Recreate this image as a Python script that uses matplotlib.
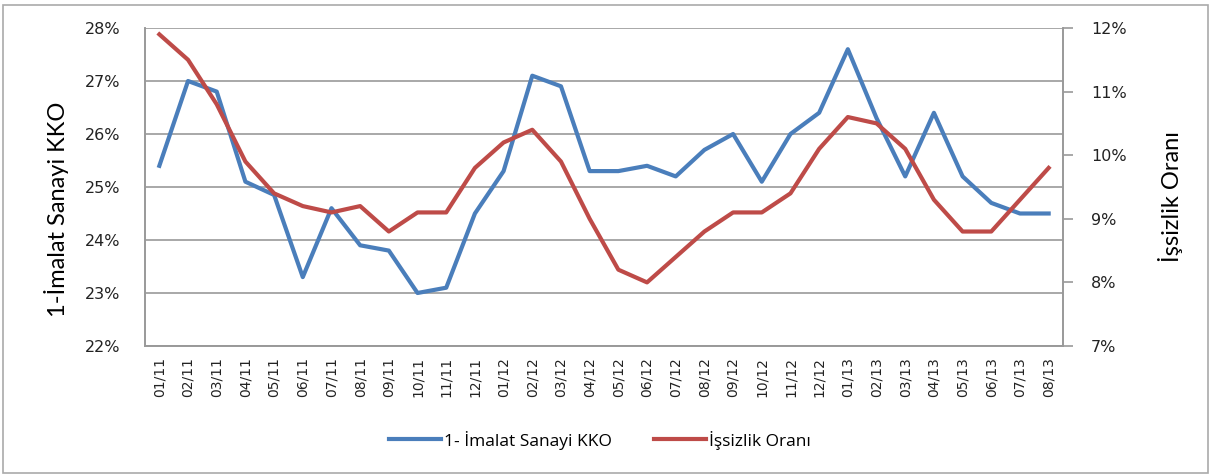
import matplotlib.pyplot as plt
from matplotlib.patches import Rectangle
from matplotlib.ticker import FuncFormatter

months = ['01/11', '02/11', '03/11', '04/11', '05/11', '06/11', '07/11', '08/11',
          '09/11', '10/11', '11/11', '12/11', '01/12', '02/12', '03/12', '04/12',
          '05/12', '06/12', '07/12', '08/12', '09/12', '10/12', '11/12', '12/12',
          '01/13', '02/13', '03/13', '04/13', '05/13', '06/13', '07/13', '08/13']

kko = [25.4, 27.0, 26.8, 25.1, 24.85, 23.3, 24.6, 23.9, 23.8, 23.0, 23.1, 24.5,
       25.3, 27.1, 26.9, 25.3, 25.3, 25.4, 25.2, 25.7, 26.0, 25.1, 26.0, 26.4,
       27.6, 26.3, 25.2, 26.4, 25.2, 24.7, 24.5, 24.5]

issizlik = [11.9, 11.5, 10.8, 9.9, 9.4, 9.2, 9.1, 9.2, 8.8, 9.1, 9.1, 9.8,
            10.2, 10.4, 9.9, 9.0, 8.2, 8.0, 8.4, 8.8, 9.1, 9.1, 9.4, 10.1,
            10.6, 10.5, 10.1, 9.3, 8.8, 8.8, 9.3, 9.8]

blue = '#4a7ebb'
red = '#be4b48'
grid = '#999999'

fig = plt.figure(figsize=(12.11, 4.76), dpi=100)
ax = fig.add_axes([145 / 1211, 1 - 346 / 476, (1063 - 145) / 1211, (346 - 28) / 476])
ax2 = ax.twinx()

x = list(range(len(months)))
l1, = ax.plot(x, kko, color=blue, lw=3, label='1- İmalat Sanayi KKO')
l2, = ax2.plot(x, issizlik, color=red, lw=3, label='İşsizlik Oranı')

ax.set_xlim(-0.5, len(months) - 0.5)
ax.set_ylim(22, 28)
ax2.set_ylim(7, 12)
ax.set_yticks(range(22, 29))
ax2.set_yticks(range(7, 13))
pct = FuncFormatter(lambda v, p: '%d%%' % v)
ax.yaxis.set_major_formatter(pct)
ax2.yaxis.set_major_formatter(pct)

ax.grid(axis='y', color=grid, lw=1.2)
ax.set_axisbelow(True)
ax.set_xticks(x)
ax.set_xticklabels(months, rotation=90, fontsize=10, family='DejaVu Sans', color='#222222')
ax.tick_params(axis='x', length=0, pad=8)
ax.tick_params(axis='y', length=0, pad=18, labelsize=11.5, labelcolor='#222222')
ax2.tick_params(axis='y', length=7, width=1.2, color=grid, pad=13, labelsize=11.5,
                labelcolor='#222222')

for a in (ax, ax2):
    for s in a.spines.values():
        s.set_color(grid)
        s.set_linewidth(1.2)
ax.spines['top'].set_visible(False)
ax2.spines['top'].set_visible(False)

ax.set_ylabel('1-İmalat Sanayi KKO', fontsize=17, family='Lato')
ax.yaxis.set_label_coords(-0.083, 0.43)
ax2.set_ylabel('İşsizlik Oranı', fontsize=17, family='Lato')
ax2.yaxis.set_label_coords(1.103, 0.47)

fig.legend([l1, l2], [l1.get_label(), l2.get_label()], loc='center',
           bbox_to_anchor=(600 / 1211, 1 - 440 / 476), ncol=2, frameon=False,
           prop={'family': 'Open Sans', 'size': 12.5}, handlelength=3.0,
           columnspacing=2.4, handletextpad=0.2)

fig.patches.append(Rectangle((3 / 1211, 3 / 476), 1205 / 1211, 468 / 476,
                             transform=fig.transFigure, fill=False,
                             edgecolor='#aaaaaa', lw=1.2))

fig.savefig('out.png', dpi=100)
